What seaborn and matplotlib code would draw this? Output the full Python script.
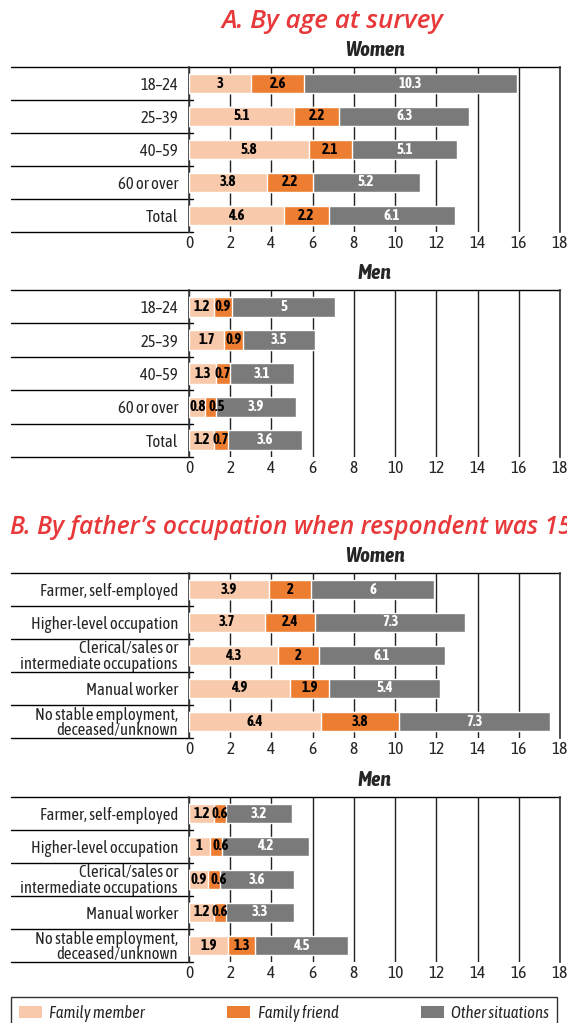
import matplotlib
matplotlib.use("Agg")
import matplotlib.pyplot as plt
import seaborn as sns
import pandas as pd
from matplotlib.patches import Patch

sns.set_style("white")
plt.rcParams['font.family'] = ['Asap Condensed', 'DejaVu Sans']

# data
age_groups = ["18–24", "25–39", "40–59", "60 or over", "Total"]
age_women_member = [3, 5.1, 5.8, 3.8, 4.6]
age_women_friend = [2.6, 2.2, 2.1, 2.2, 2.2]
age_women_other = [10.3, 6.3, 5.1, 5.2, 6.1]
age_men_member = [1.2, 1.7, 1.3, 0.8, 1.2]
age_men_friend = [0.9, 0.9, 0.7, 0.5, 0.7]
age_men_other = [5, 3.5, 3.1, 3.9, 3.6]

occupations = ["Farmer, self-employed", "Higher-level occupation",
               "Clerical/sales or\nintermediate occupations", "Manual worker",
               "No stable employment,\ndeceased/unknown"]
occ_women_member = [3.9, 3.7, 4.3, 4.9, 6.4]
occ_women_friend = [2, 2.4, 2, 1.9, 3.8]
occ_women_other = [6, 7.3, 6.1, 5.4, 7.3]
occ_men_member = [1.2, 1, 0.9, 1.2, 1.9]
occ_men_friend = [0.6, 0.6, 0.6, 0.6, 1.3]
occ_men_other = [3.2, 4.2, 3.6, 3.3, 4.5]

series_names = ["Family member", "Family friend", "Other situations"]
colors = ["#f8c9aa", "#ec7d31", "#7a7a7a"]
label_colors = ["black", "black", "white"]

W, H = 567, 1023
fig = plt.figure(figsize=(W / 100, H / 100), dpi=100)

AX_L, AX_R, LINE_L = 189, 560, 11
TITLE_FONT = ['Open Sans', 'DejaVu Sans']


def panel(top, bottom, cats, member, friend, other, subtitle):
    ax = fig.add_axes([AX_L / W, 1 - bottom / H, (AX_R - AX_L) / W, (bottom - top) / H])
    df = pd.DataFrame({"cat": cats, "member": member, "friend": friend, "other": other})
    df["c1"] = df["member"]
    df["c2"] = df["member"] + df["friend"]
    df["c3"] = df["c2"] + df["other"]
    for col, color in zip(["c3", "c2", "c1"], colors[::-1]):
        sns.barplot(data=df, x=col, y="cat", color=color, width=0.6,
                    saturation=1, orient="h", ax=ax, zorder=3)
    # value labels (centred; friend label nudged right when the first segment is tiny)
    for i, row in df.iterrows():
        xs = [row["c1"] / 2, row["c1"] + row["friend"] / 2, row["c2"] + row["other"] / 2]
        if row["member"] < 1.1:
            xs[1] = max(xs[1], row["c1"] + 0.55)
        vals = [row["member"], row["friend"], row["other"]]
        for x, v, lc in zip(xs, vals, label_colors):
            ax.text(x, i, f"{v:g}", ha="center", va="center",
                    fontsize=10.5, fontweight="bold", color=lc, zorder=4)
    ax.set_xlim(0, 18)
    ax.set_ylim(len(cats) - 0.5, -0.5)
    ax.set_xticks(range(0, 19, 2))
    ax.set_xlabel("")
    ax.set_ylabel("")
    ax.tick_params(axis="x", length=0, labelsize=12.5, pad=2)
    ax.tick_params(axis="y", length=0, labelsize=12, pad=8)
    for lbl in ax.get_yticklabels():
        lbl.set_linespacing(0.85)
    ax.grid(axis="x", color="#222222", linewidth=1, zorder=0)
    ax.set_axisbelow(True)
    for side in ["top", "bottom"]:
        ax.spines[side].set_visible(False)
    for side in ["left", "right"]:
        ax.spines[side].set_color("#333333")
        ax.spines[side].set_linewidth(1.2)
    # row separators in the label area
    ext = -(AX_L - LINE_L) / (AX_R - AX_L)
    for k in range(len(cats) + 1):
        xmax = 1 if k == 0 else 0.012
        ax.axhline(k - 0.5, xmin=ext, xmax=xmax, color="black", lw=1, clip_on=False)
    ax.annotate(subtitle, xy=(0.5, 1), xycoords="axes fraction", xytext=(0, 12),
                textcoords="offset points", ha="center", va="center", fontsize=15,
                fontweight="bold", fontstyle="italic")
    return ax


def fit_title(txt, width_px):
    # scale the font so the title spans about the same width as the reference
    r = fig.canvas.get_renderer()
    w = txt.get_window_extent(r).width
    txt.set_fontsize(txt.get_fontsize() * width_px / w)


tA = fig.text(332 / W, 1 - 22 / H, "A. By age at survey", ha="center", va="center",
              fontsize=20, fontweight="semibold", fontstyle="italic", color="#e8383a",
              family=TITLE_FONT)
fit_title(tA, 223)
panel(67, 232, age_groups, age_women_member, age_women_friend, age_women_other, "Women")
panel(290, 457, age_groups, age_men_member, age_men_friend, age_men_other, "Men")

tB = fig.text(10 / W, 1 - 527 / H, "B. By father’s occupation when respondent was 15", ha="left",
              va="center", fontsize=20, fontweight="semibold", fontstyle="italic",
              color="#e8383a", family=TITLE_FONT)
fit_title(tB, 562)

panel(573, 738, occupations, occ_women_member, occ_women_friend, occ_women_other, "Women")
panel(797, 962, occupations, occ_men_member, occ_men_friend, occ_men_other, "Men")

handles = [Patch(facecolor=c, edgecolor="none") for c in colors]
leg = fig.legend(handles, series_names, loc="lower left", ncol=3, mode="expand",
                 bbox_to_anchor=(LINE_L / W, -6 / H, (557 - LINE_L) / W, 33 / H),
                 frameon=True, fancybox=False, edgecolor="black",
                 prop={"size": 12, "style": "italic"}, handlelength=1.4,
                 handleheight=0.7, handletextpad=0.45, borderpad=0.45, borderaxespad=0)
leg.get_frame().set_linewidth(1)

fig.savefig("out.png", dpi=100)
